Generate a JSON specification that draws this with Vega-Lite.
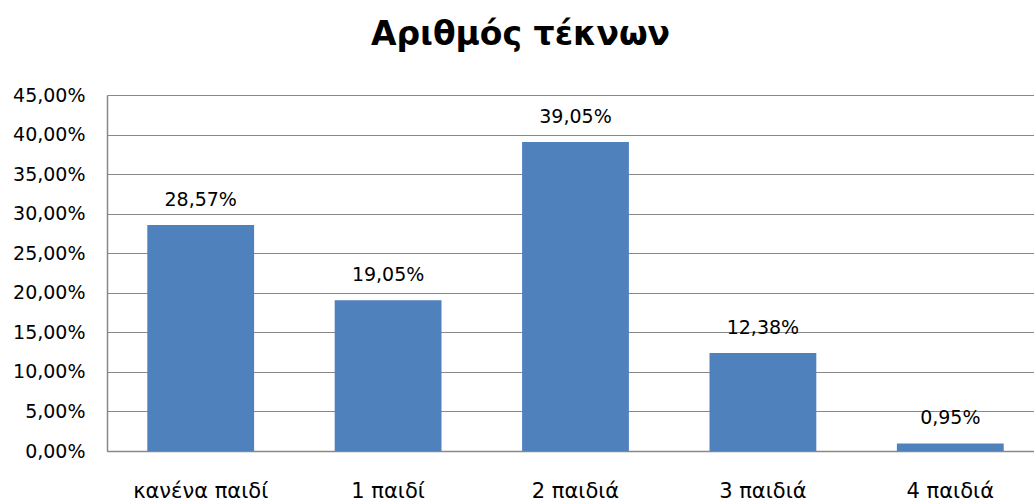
{
  "$schema": "https://vega.github.io/schema/vega-lite/v6.json",
  "autosize": {"type": "none"},
  "padding": {"left": 107, "top": 95, "right": 0, "bottom": 50},
  "width": 937,
  "height": 356,
  "background": "white",
  "config": {
    "locale": {"number": {"decimal": ",", "thousands": ".", "grouping": [3], "currency": ["", " €"]}},
    "view": {"stroke": null},
    "font": "DejaVu Sans"
  },
  "title": {
    "text": "Αριθμός τέκνων",
    "font": "DejaVu Sans",
    "fontSize": 33,
    "fontWeight": "bold",
    "color": "#000000",
    "anchor": "middle",
    "dx": -55,
    "offset": 34
  },
  "data": {
    "values": [
      {"category": "κανένα παιδί", "value": 0.2857},
      {"category": "1 παιδί", "value": 0.1905},
      {"category": "2 παιδιά", "value": 0.3905},
      {"category": "3 παιδιά", "value": 0.1238},
      {"category": "4 παιδιά", "value": 0.0095}
    ]
  },
  "encoding": {
    "x": {
      "field": "category",
      "type": "nominal",
      "sort": null,
      "scale": {"paddingInner": 0.43, "paddingOuter": 0.215},
      "axis": {
        "title": null,
        "labelAngle": 0,
        "labelFont": "DejaVu Sans",
        "labelFontSize": 21,
        "labelColor": "#000000",
        "labelBaseline": "alphabetic",
        "labelPadding": 46,
        "ticks": false,
        "domainColor": "#888888",
        "domainWidth": 1.5
      }
    },
    "y": {
      "field": "value",
      "type": "quantitative",
      "scale": {"domain": [0, 0.45], "nice": false},
      "axis": {
        "title": null,
        "format": ".2%",
        "values": [0, 0.05, 0.1, 0.15, 0.2, 0.25, 0.3, 0.35, 0.4, 0.45],
        "labelFont": "DejaVu Sans",
        "labelFontSize": 19,
        "labelColor": "#000000",
        "labelPadding": 22,
        "ticks": false,
        "domainColor": "#888888",
        "domainWidth": 1.5,
        "gridColor": "#888888",
        "gridWidth": 1.2
      }
    }
  },
  "layer": [
    {"mark": {"type": "bar", "color": "#4F81BD"}},
    {
      "mark": {"type": "text", "baseline": "alphabetic", "dy": -19, "font": "DejaVu Sans", "fontSize": 19, "color": "#000000"},
      "encoding": {"text": {"field": "value", "type": "quantitative", "format": ".2%"}}
    }
  ]
}
